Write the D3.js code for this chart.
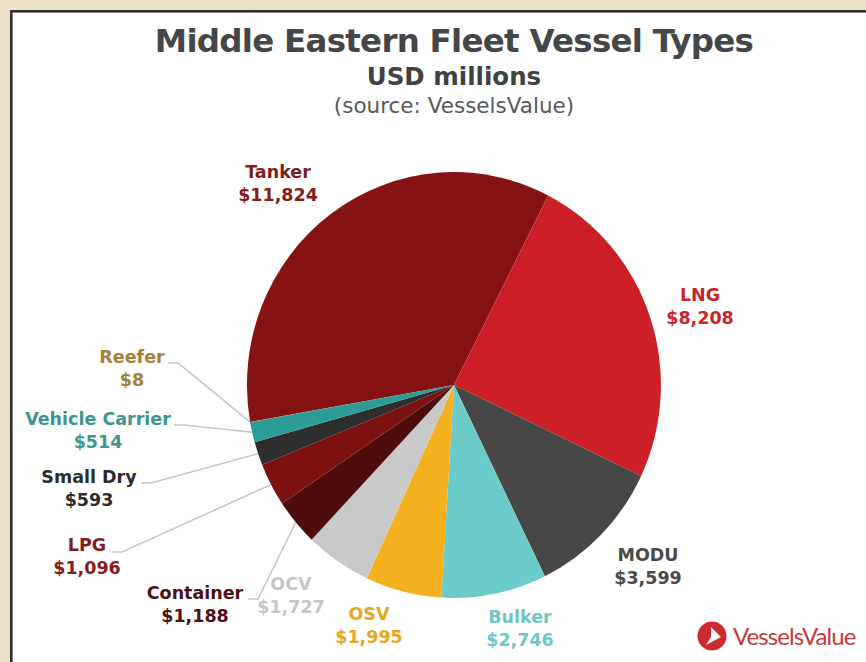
<!DOCTYPE html>
<html>
<head>
<meta charset="utf-8">
<script src="https://cdn.jsdelivr.net/npm/d3@7"></script>
<style>
html,body{margin:0;padding:0;background:#ede0c8;}
svg{display:block;}
text{font-family:"DejaVu Sans",Verdana,sans-serif;}
</style>
</head>
<body>
<svg id="chart" width="866" height="662"></svg>
<script>
// Fleet value by vessel type, USD millions
const categories = ["Tanker","LNG","MODU","Bulker","OSV","OCV","Container","LPG","Small Dry","Vehicle Carrier","Reefer"];
const values = [11824,8208,3599,2746,1995,1727,1188,1096,593,514,8];
const sliceColors = ["#861314","#cc2026","#474747","#6bcbc8","#f3b01f","#c9c9c9","#4f0c0c","#7d1112","#2e2e2e","#2c9c96","#a57c2e"];
const labelColors = ["#861b1b","#c8242a","#4a4a4a","#6fc6c4","#e8a81e","#c6c6c6","#4f1014","#861b1b","#2c2c2c","#3f9490","#a5803a"];
// Label centre and name-line baseline for each type
const labelX = [278,700,648,520,369,291,195,87,89,98,132];
const labelY = [178,301,561,623,620,590,599,551,483,425,363];
// Small slices that use a leader line, with the point where it meets the label
const leaderCategories = ["Reefer","Vehicle Carrier","Small Dry","LPG","Container"];
const leaderEnds = [[168,363],[174,425],[141,483],[112,552],[248,599]];

const cx = 454, cy = 385, rx = 207, ry = 213;
const svg = d3.select("#chart");

// White panel with dark rule on the top and left
svg.append("rect").attr("x",11.3).attr("y",11.3).attr("width",900).attr("height",700)
  .attr("fill","#fff").attr("stroke","#33302e").attr("stroke-width",2.6);

// Titles
const titles = [
  {t:"Middle Eastern Fleet Vessel Types",y:52,s:32.5,w:"bold",c:"#444648",ls:-0.75},
  {t:"USD millions",y:85,s:24.5,w:"bold",c:"#3f4143",ls:0},
  {t:"(source: VesselsValue)",y:113,s:21.5,w:"normal",c:"#58595b",ls:0}
];
svg.selectAll("text.title").data(titles).join("text").attr("class","title")
  .attr("x",454).attr("y",d=>d.y).attr("text-anchor","middle").attr("letter-spacing",d=>d.ls)
  .attr("font-size",d=>d.s).attr("font-weight",d=>d.w).attr("fill",d=>d.c).text(d=>d.t);

// Pie, drawn on a unit radius scale and stretched slightly vertically
const pie = d3.pie().sort(null).startAngle(-100*Math.PI/180).endAngle(260*Math.PI/180);
const arc = d3.arc().innerRadius(0).outerRadius(1);
const arcs = pie(values);

// Leader lines run from each label to the middle of its slice's outer edge
const leader = svg.append("g").attr("fill","none").attr("stroke","#c9c5c2").attr("stroke-width",1.5);
leaderCategories.forEach((name,k)=>{
  const d = arcs[categories.indexOf(name)];
  const a = (d.startAngle+d.endAngle)/2;
  const [ex,ey] = leaderEnds[k];
  leader.append("path").attr("d",d3.line()([[cx+rx*Math.sin(a),cy-ry*Math.cos(a)],[ex+10,ey],[ex,ey]]));
});

const g = svg.append("g").attr("transform",`translate(${cx},${cy}) scale(${rx},${ry})`);
g.selectAll("path").data(arcs).join("path")
  .attr("d",arc).attr("fill",(d,i)=>sliceColors[i]);

// Two-line labels: type name and value
const fmt = d3.format("$,");
const labels = svg.selectAll("g.lab").data(categories).join("g").attr("class","lab")
  .attr("text-anchor","middle").attr("font-weight","bold").attr("font-size",17.5)
  .attr("fill",(d,i)=>labelColors[i]);
labels.append("text").attr("x",(d,i)=>labelX[i]).attr("y",(d,i)=>labelY[i]).text(d=>d);
labels.append("text").attr("x",(d,i)=>labelX[i]).attr("y",(d,i)=>labelY[i]+23).text((d,i)=>fmt(values[i]));

// Brand mark
const logo = svg.append("g").attr("transform","translate(712,636)");
logo.append("circle").attr("r",14.5).attr("fill","#cf2a30");
logo.append("path").attr("d","M-1,-9 L9,1 L-6,9 L-1,1 Z").attr("fill","#fff");
svg.append("text").attr("x",733).attr("y",645).attr("font-size",24).attr("letter-spacing",-0.9)
  .style("font-family","Lato, 'Open Sans', sans-serif").attr("fill","#c33a40").text("VesselsValue");
</script>
</body>
</html>
